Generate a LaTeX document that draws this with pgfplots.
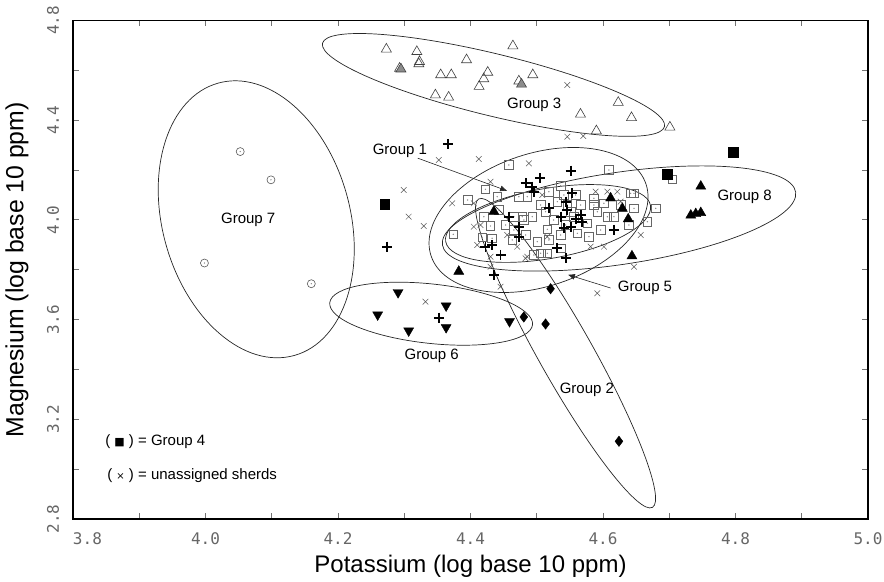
\documentclass[border=0pt]{standalone}
\usepackage{pgfplots}
\pgfplotsset{compat=1.18}
\usepackage{pgfplotstable}
\usepackage{fontspec}
\setmainfont{Liberation Sans}
\newfontfamily\tickfont{DejaVu Sans Mono}
\newfontfamily\symfont{DejaVu Sans}
\usetikzlibrary{arrows.meta}
\tikzset{
  ell/.style={draw=black!85, line width=0.7pt},
  glabel/.style={font=\fontsize{15}{15}\selectfont},
}

% Group 1 (open squares)
\pgfplotstableread{
x y
4.4578 4.2203
4.6090 4.2002
4.4226 4.1228
4.4403 4.0931
4.5360 4.1372
4.5183 4.1131
4.4730 4.0931
4.4857 4.0931
4.5058 4.0598
4.5410 4.0999
4.5310 4.0730
4.5133 4.0329
4.4932 4.0128
4.4781 4.0128
4.4654 4.0128
4.4427 4.0397
4.4201 4.0128
4.4302 3.9755
4.4654 3.9595
4.4630 3.9194
4.5008 3.9126
4.5159 3.9623
4.5183 3.9194
4.5360 3.8861
4.5058 3.8660
4.4956 3.8592
4.5561 4.0128
4.5763 3.9864
4.5612 3.9462
4.5788 3.9326
4.5863 4.0867
4.6014 4.0666
4.5915 4.0329
4.5863 4.0598
4.6066 4.0128
4.6165 4.0128
4.6418 4.1067
4.6468 4.1067
4.6468 4.0465
4.6796 4.0465
4.6670 3.9928
4.6392 3.9795
4.7048 4.1629
4.5461 4.0598
4.5511 4.0329
4.5662 4.0598
4.3956 4.0798
4.3740 3.9422
4.4177 3.9302
4.4326 3.9262
4.4805 3.9996
4.5159 3.8660
4.5254 3.9996
4.5436 3.9795
4.5587 4.0999
4.4529 3.9795
4.6266 4.0598
4.5360 3.9394
4.5964 3.9595
4.4831 3.9394
}\groupone

% Group 5 (plus)
\pgfplotstableread{
x y
4.5511 4.1978
4.5047 4.1669
4.4831 4.1469
4.4932 4.1332
4.4956 4.1131
4.5537 4.1067
4.5436 4.0730
4.5461 4.0397
4.5360 4.0128
4.5183 4.0465
4.5587 4.0036
4.5662 4.0196
4.5410 3.9663
4.5511 3.9727
4.5688 3.9928
4.4730 3.9727
4.4730 3.9326
4.4578 4.0128
4.4226 3.8925
4.4328 3.8993
4.4453 3.8592
4.5310 3.8861
4.5436 3.8460
4.6165 3.9595
4.4352 3.7789
4.3663 4.3045
4.2741 3.8925
4.3521 3.6076
}\groupfive

% unassigned sherds
\pgfplotstableread{
x y
4.5461 4.5412
4.5461 4.3338
4.5703 4.3366
4.3521 4.2403
4.4125 4.2443
4.4881 4.2271
4.2992 4.1200
4.3067 4.0128
4.3294 3.9755
4.3723 4.0666
4.4302 4.1533
4.4050 3.9727
4.4101 3.8993
4.4302 3.8524
4.4302 3.8122
4.4453 3.7320
4.4857 3.8524
4.4705 3.8925
4.4554 3.9394
4.5914 3.7055
4.6468 3.8122
4.6569 3.9394
4.6216 4.1131
4.6066 4.1131
4.5889 4.1131
4.6266 4.0730
4.5813 3.8925
4.6014 3.8925
4.5083 4.0999
4.4151 3.9795
4.4831 3.8460
4.5159 3.9326
4.4050 4.0666
4.3320 3.6718
}\unassigned

% Group 3 (open triangles)
\pgfplotstableread{
x y
4.273 4.685
4.319 4.675
4.293 4.608
4.323 4.635
4.322 4.626
4.355 4.582
4.371 4.582
4.394 4.642
4.464 4.698
4.426 4.592
4.420 4.566
4.413 4.535
4.473 4.557
4.494 4.582
4.347 4.501
4.367 4.492
4.623 4.471
4.566 4.424
4.643 4.410
4.590 4.357
4.701 4.372
}\groupthree

\pgfplotstableread{
x y
4.295 4.605
4.477 4.544
}\groupthreegray

% Group 8 (filled triangles)
\pgfplotstableread{
x y
4.3823 3.7932
4.4352 4.0337
4.6115 4.0874
4.6292 4.0457
4.6380 4.0032
4.6437 3.8549
4.7476 4.1347
4.7325 4.0184
4.7400 4.0244
4.7476 4.0285
}\groupeight

% Group 2 (diamonds)
\pgfplotstableread{
x y
4.5209 3.7238
4.4805 3.6104
4.5133 3.5824
4.6241 3.1118
}\grouptwo

% Group 6 (down triangles)
\pgfplotstableread{
x y
4.2907 3.7090
4.2599 3.6196
4.3067 3.5555
4.3632 3.6557
4.3632 3.5687
4.4589 3.5928
}\groupsix

% Group 4 (filled squares)
\pgfplotstableread{
x y
4.2705 4.0633
4.6972 4.1836
4.7964 4.2717
}\groupfour

% Group 7 (open circles)
\pgfplotstableread{
x y
4.0524 4.2741
4.0988 4.1607
3.9984 3.8269
4.1597 3.7439
}\groupseven

\begin{document}
\begin{tikzpicture}
\begin{axis}[
  scale only axis, width=795pt, height=498.5pt,
  xmin=3.8, xmax=5.0, ymin=2.8, ymax=4.8,
  xtick={3.8,4.0,4.2,4.4,4.6,4.8,5.0},
  xticklabels={\makebox[0pt][l]{3.8},4.0,4.2,4.4,4.6,4.8,5.0},
  ytick={2.8,3.2,3.6,4.0,4.4,4.8},
  yticklabels={2.8,3.2,3.6,4.0,4.4,4.8},
  minor x tick num=1, minor y tick num=1,
  tick align=inside, major tick length=6pt, minor tick length=6pt,
  tick style={black!55, line width=0.8pt},
  axis line style={black, line width=1.3pt},
  ticklabel style={font=\tickfont\fontsize{16}{16}\selectfont, text=black!60},
  xticklabel style={anchor=center, yshift=-20pt},
  yticklabel style={xshift=-20pt, rotate=90, anchor=center},
  xlabel={Potassium (log base 10 ppm)},
  ylabel={Magnesium (log base 10 ppm)},
  xlabel style={font=\fontsize{24}{24}\selectfont, at={(axis description cs:0.5,-0.0943)}, anchor=center},
  ylabel style={font=\fontsize{24.8}{24.8}\selectfont, at={(axis description cs:-0.0704,0.5)}, anchor=center},
]
% ellipses
\draw[ell, rotate around={-13.7:(axis cs:4.4347,4.5415)}] (axis cs:4.4347,4.5415) ellipse [x radius=176pt, y radius=31pt];
\draw[ell, rotate around={-74.35:(axis cs:4.0766,4.0024)}] (axis cs:4.0766,4.0024) ellipse [x radius=141.4pt, y radius=93.75pt];
\draw[ell, rotate around={-6.2:(axis cs:4.3406,3.6236)}] (axis cs:4.3406,3.6236) ellipse [x radius=102pt, y radius=29.7pt];
\draw[ell, rotate around={-60.6:(axis cs:4.5435,3.4653)}] (axis cs:4.5435,3.4653) ellipse [x radius=177pt, y radius=27pt];
\draw[ell, rotate around={18.5:(axis cs:4.5027,3.9996)}] (axis cs:4.5027,3.9996) ellipse [x radius=113.3pt, y radius=66.4pt];
\draw[ell, rotate around={10:(axis cs:4.5171,3.9856)}] (axis cs:4.5171,3.9856) ellipse [x radius=104pt, y radius=35pt];
\draw[ell, rotate around={8.5:(axis cs:4.6242,4.0056)}] (axis cs:4.6242,4.0056) ellipse [x radius=178.6pt, y radius=46pt];

% pointers
\draw[black!85, line width=0.6pt, -{Latex[length=7pt,width=6pt]}] (axis cs:4.3203,4.2477) -- (axis cs:4.4554,4.1166);
\draw[black!85, line width=0.6pt, -{Latex[length=7pt,width=6pt]}] (axis cs:4.6115,3.7267) -- (axis cs:4.5470,3.7800);

% points
\addplot[only marks, mark=x, mark size=4pt, mark options={draw=black!65, line width=0.5pt}] table {\unassigned};
\addplot[only marks, mark=square, mark size=4.3pt, mark options={draw=black!60, line width=0.7pt}] table {\groupone};
\addplot[only marks, mark=*, mark size=0.45pt, mark options={draw=black!45, fill=black!45}] table {\groupone};
\addplot[only marks, mark=+, mark size=5pt, mark options={draw=black, line width=1.9pt}] table {\groupfive};
\addplot[only marks, mark=triangle, mark size=5.8pt, mark options={draw=black!75, line width=0.6pt}] table {\groupthree};
\addplot[only marks, mark=triangle*, mark size=5.8pt, mark options={draw=black!75, fill=black!45, line width=0.6pt}] table {\groupthreegray};
\addplot[only marks, mark=triangle*, mark size=5.8pt, mark options={draw=black, fill=black}] table {\groupeight};
\addplot[only marks, mark=diamond*, mark size=5.2pt, mark options={draw=black, fill=black}] table {\grouptwo};
\addplot[only marks, mark=triangle*, mark size=5.8pt, mark options={draw=black, fill=black, rotate=180}] table {\groupsix};
\addplot[only marks, mark=square*, mark size=4.8pt, mark options={draw=black, fill=black}] table {\groupfour};
\addplot[only marks, mark=o, mark size=4pt, mark options={draw=black!65, line width=0.6pt}] table {\groupseven};
\addplot[only marks, mark=*, mark size=0.4pt, mark options={draw=black!45, fill=black!45}] table {\groupseven};

% group labels
\node[glabel] at (axis cs:4.4962,4.4613) {Group 3};
\node[glabel] at (axis cs:4.2934,4.2782) {Group 1};
\node[glabel] at (axis cs:4.8138,4.0938) {Group 8};
\node[glabel] at (axis cs:4.0645,4.0004) {Group 7};
\node[glabel] at (axis cs:4.3415,3.4553) {Group 6};
\node[glabel] at (axis cs:4.5757,3.3190) {Group 2};
\node[glabel] at (axis cs:4.6634,3.7267) {Group 5};
\node[glabel, anchor=west, inner sep=0pt] at (axis cs:3.8484,3.1106) {( {\symfont\fontsize{11}{11}\selectfont ■} ) = Group 4};
\node[glabel, anchor=west, inner sep=0pt] at (axis cs:3.8514,2.9743) {( {\symfont\fontsize{10}{10}\selectfont ×} ) = unassigned sherds};
\end{axis}
\pgfresetboundingbox
\path ([shift={(-73pt,-63pt)}]current axis.south west) rectangle ([shift={(16pt,20.5pt)}]current axis.north east);
\end{tikzpicture}
\end{document}
